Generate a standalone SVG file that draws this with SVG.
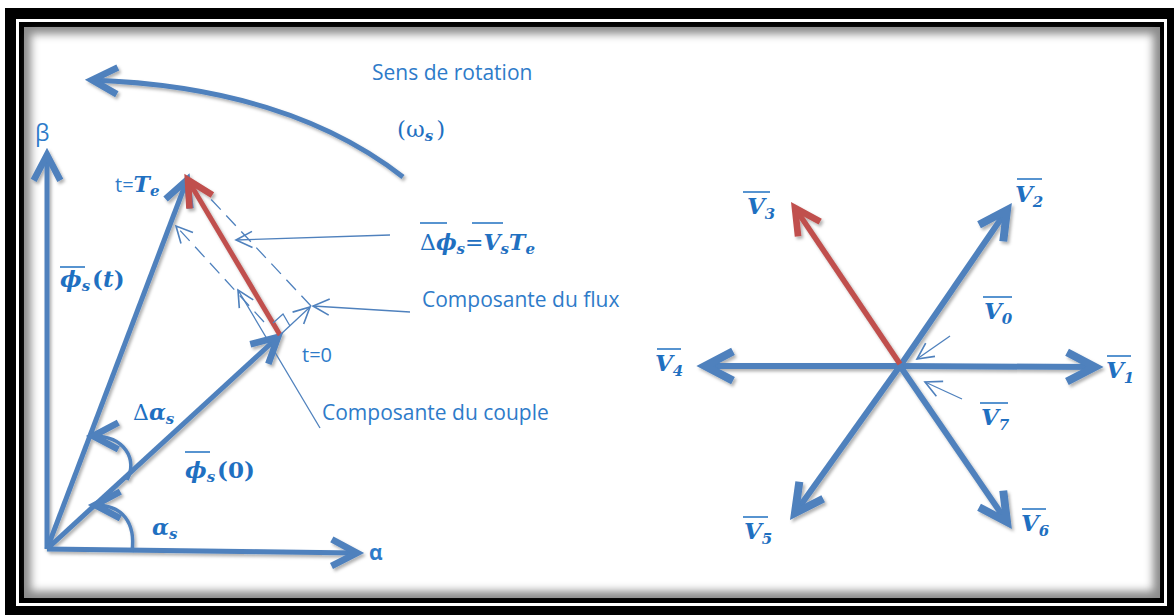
<svg xmlns="http://www.w3.org/2000/svg" width="1174" height="615" viewBox="0 0 1174 615">
<defs>
<style>
.ln{fill:none;stroke:#4f81bd;stroke-width:5;stroke-linecap:butt}
.hx{fill:none;stroke:#4f81bd;stroke-width:6;stroke-linecap:butt}
.red{fill:none;stroke:#c0504d;stroke-width:5;stroke-linecap:butt}
.thin{fill:none;stroke:#4f81bd;stroke-width:1.3}
.dash{fill:none;stroke:#4f81bd;stroke-width:1.3;stroke-dasharray:14 8}
.lbl{font-family:"Open Sans","Liberation Sans",sans-serif;font-size:21px;fill:#2e7bc9}
.m{font-family:"DejaVu Serif","Liberation Serif",serif;font-weight:bold;font-style:italic;fill:#1f70c1;font-size:22px}
.v{font-size:23px}
.up{font-style:normal}
.sub{font-size:15px}
.ov{stroke:#1f70c1;stroke-width:1.5;fill:none}
</style>
<marker id="ah" markerUnits="userSpaceOnUse" markerWidth="40" markerHeight="40" viewBox="-25 -15 30 30" refX="0" refY="0" orient="auto" overflow="visible">
<path d="M-19,-10 L0,0 L-19,10" fill="none" stroke="#4f81bd" stroke-width="5" stroke-linejoin="miter"/>
</marker>
<marker id="ahx" markerUnits="userSpaceOnUse" markerWidth="40" markerHeight="40" viewBox="-25 -15 30 30" refX="0" refY="0" orient="auto" overflow="visible">
<path d="M-21,-11 L0,0 L-21,11" fill="none" stroke="#4f81bd" stroke-width="6" stroke-linejoin="miter"/>
</marker>
<marker id="ahr" markerUnits="userSpaceOnUse" markerWidth="40" markerHeight="40" viewBox="-25 -15 30 30" refX="0" refY="0" orient="auto" overflow="visible">
<path d="M-19,-10 L0,0 L-19,10" fill="none" stroke="#c0504d" stroke-width="5" stroke-linejoin="miter"/>
</marker>
<marker id="aht" markerUnits="userSpaceOnUse" markerWidth="20" markerHeight="20" viewBox="-15 -8 16 16" refX="0" refY="0" orient="auto" overflow="visible">
<path d="M-13,-6.5 L0,0 L-13,6.5" fill="none" stroke="#4f81bd" stroke-width="1.3"/>
</marker>
<filter id="sh" x="-10%" y="-10%" width="120%" height="120%">
<feDropShadow dx="2" dy="2.5" stdDeviation="1.8" flood-color="#000" flood-opacity="0.3"/>
</filter>
<filter id="bl" x="-5%" y="-5%" width="110%" height="110%">
<feGaussianBlur stdDeviation="4"/>
</filter>
</defs>

<g id="frame">
<rect x="0" y="0" width="1174" height="615" fill="#fff"/>
<rect x="5" y="8" width="1169" height="607" fill="#000"/>
<rect x="16" y="19" width="1151" height="587" fill="#fff"/>
<rect x="19" y="22" width="1145" height="581" fill="#000"/>
<rect x="24" y="27" width="1136" height="571" fill="#8c8c8c"/>
<rect x="31" y="34" width="1122" height="557" fill="#fff" filter="url(#bl)"/>
</g>

<g id="connectors">
<g id="thick" filter="url(#sh)">
<path class="ln" d="M47,549 L47,155" marker-end="url(#ah)"/>
<path class="ln" d="M47,549 L357,553" marker-end="url(#ah)"/>
<path class="ln" d="M47,549 L187,180" marker-end="url(#ah)"/>
<path class="ln" d="M47,549 L278,337" marker-end="url(#ah)"/>
<path class="red" d="M280,335 L188,180" marker-end="url(#ahr)"/>
<path class="ln" d="M403,177 C330,120 230,85 92,80" marker-end="url(#ah)"/>
<path class="ln" style="stroke-width:3.5" d="M132,552 C136,522 122,505 95,505" marker-end="url(#ah)"/>
<path class="ln" style="stroke-width:3.5" d="M127,480 C138,460 125,436 93,436" marker-end="url(#ah)"/>
</g>
<g id="hexagon" filter="url(#sh)">
<path class="hx" d="M900,366 L1095,367" marker-end="url(#ahx)"/>
<path class="hx" d="M900,366 L705,366" marker-end="url(#ahx)"/>
<path class="hx" d="M900,366 L1007,210" marker-end="url(#ahx)"/>
<path class="hx" d="M900,366 L795,513" marker-end="url(#ahx)"/>
<path class="hx" d="M900,366 L1007,522" marker-end="url(#ahx)"/>
<path class="red" style="stroke-width:5.5" d="M900,364 L795,208" marker-end="url(#ahr)"/>
</g>
<g id="thin-lines">
<path class="dash" d="M264,322 L176,226" marker-end="url(#aht)"/>
<path class="dash" d="M311,306 L207,195"/>
<path class="thin" d="M280,335 L310,307" marker-end="url(#aht)"/>
<path class="thin" d="M273,323 L283,314 L290,326"/>
<path class="thin" d="M390,235 L236,240" marker-end="url(#aht)"/>
<path class="thin" d="M410,312 L313,306" marker-end="url(#aht)"/>
<path class="thin" d="M320,428 L238,290" marker-end="url(#aht)"/>
<path class="thin" d="M950,336 L917,359" marker-end="url(#aht)"/>
<path class="thin" d="M962,399 L925,382" marker-end="url(#aht)"/>
</g>
</g>

<g id="label-sens"><text class="lbl" x="372" y="80">Sens de rotation</text></g>
<g id="label-omega"><text class="m" x="397" y="137" style="font-size:23px"><tspan class="up" font-weight="normal">(ω</tspan><tspan class="sub" dy="4">s</tspan><tspan class="up" font-weight="normal" dy="-4" dx="3">)</tspan></text></g>
<g id="label-beta"><text class="lbl" x="35" y="141" style="font-size:23px">β</text></g>
<g id="label-alpha"><text class="lbl" x="369" y="560" font-weight="bold" style="font-size:21px">α</text></g>
<g id="label-tTe"><text class="lbl" x="115" y="192" style="font-size:20px">t=<tspan class="m" style="font-size:22px">T</tspan><tspan class="m sub" dy="4">e</tspan></text></g>
<g id="label-t0"><text class="lbl" x="302" y="362" style="font-size:20px">t=0</text></g>
<g id="label-phit">
<line class="ov" x1="60" y1="267" x2="85" y2="267"/>
<text class="m" x="60" y="287" style="font-size:23px">ϕ<tspan class="sub" dy="4">s</tspan><tspan class="up" dy="-4" dx="2">(</tspan><tspan>t</tspan><tspan class="up">)</tspan></text>
</g>
<g id="label-phi0">
<line class="ov" x1="185" y1="452" x2="210" y2="452"/>
<text class="m" x="185" y="478" style="font-size:23px">ϕ<tspan class="sub" dy="4">s</tspan><tspan class="up" dy="-4" dx="2">(0)</tspan></text>
</g>
<g id="label-dalpha"><text class="m" x="133" y="420"><tspan class="up" font-weight="normal">Δ</tspan>α<tspan class="sub" dy="4">s</tspan></text></g>
<g id="label-alphas"><text class="m" x="152" y="535">α<tspan class="sub" dy="4">s</tspan></text></g>
<g id="label-dphi">
<line class="ov" x1="420" y1="223" x2="447" y2="223"/>
<line class="ov" x1="472" y1="223" x2="503" y2="223"/>
<text class="m" x="420" y="250"><tspan class="up" font-weight="normal">Δ</tspan>ϕ<tspan class="sub" dy="4">s</tspan><tspan class="up" dy="-4" font-weight="normal">=</tspan>V<tspan class="sub" dy="4">s</tspan><tspan dy="-4">T</tspan><tspan class="sub" dy="4">e</tspan></text>
</g>
<g id="label-flux"><text class="lbl" x="422" y="307">Composante du flux</text></g>
<g id="label-couple"><text class="lbl" x="322" y="420">Composante du couple</text></g>

<g id="label-V3"><line class="ov" x1="743" y1="192" x2="770" y2="192"/><text class="m v" x="747" y="214">V<tspan class="sub" dy="5">3</tspan></text></g>
<g id="label-V2"><line class="ov" x1="1017" y1="179" x2="1042" y2="179"/><text class="m v" x="1015" y="202">V<tspan class="sub" dy="5">2</tspan></text></g>
<g id="label-V0"><line class="ov" x1="983" y1="297" x2="1012" y2="297"/><text class="m v" x="984" y="319">V<tspan class="sub" dy="5">0</tspan></text></g>
<g id="label-V4"><line class="ov" x1="657" y1="349" x2="681" y2="349"/><text class="m v" x="655" y="371">V<tspan class="sub" dy="5">4</tspan></text></g>
<g id="label-V1"><line class="ov" x1="1107" y1="356" x2="1131" y2="356"/><text class="m v" x="1106" y="378">V<tspan class="sub" dy="5">1</tspan></text></g>
<g id="label-V7"><line class="ov" x1="980" y1="403" x2="1008" y2="403"/><text class="m v" x="981" y="425">V<tspan class="sub" dy="5">7</tspan></text></g>
<g id="label-V5"><line class="ov" x1="743" y1="517" x2="768" y2="517"/><text class="m v" x="744" y="539">V<tspan class="sub" dy="5">5</tspan></text></g>
<g id="label-V6"><line class="ov" x1="1022" y1="509" x2="1046" y2="509"/><text class="m v" x="1021" y="531">V<tspan class="sub" dy="5">6</tspan></text></g>
</svg>
